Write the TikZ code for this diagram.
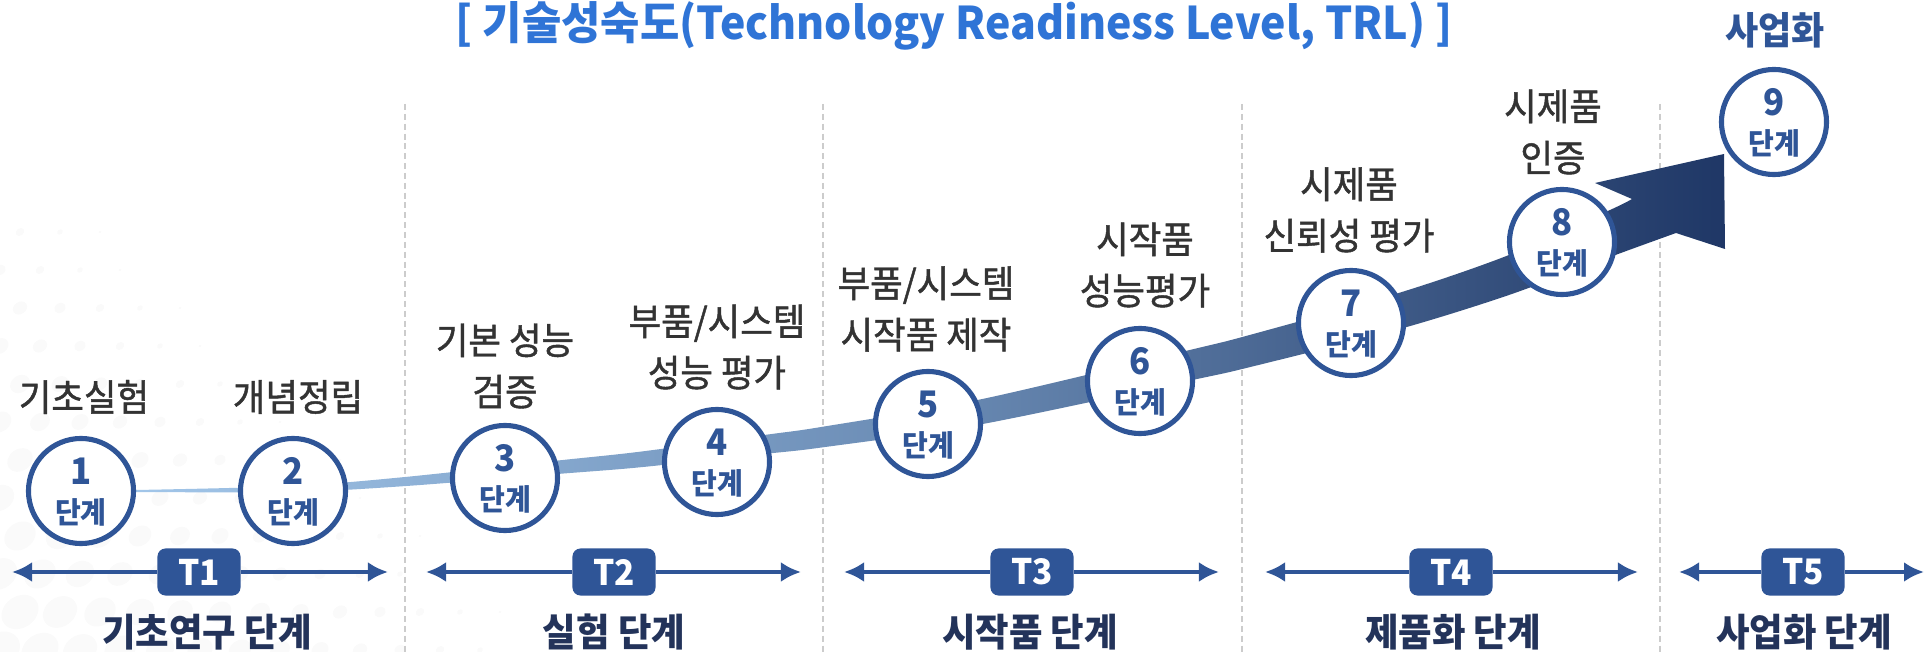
\documentclass[tikz,border=0pt]{standalone}
\usepackage{fontspec}
\setmainfont{Noto Sans CJK KR}[FakeStretch=0.95]
\newfontfamily\labelfont{Noto Sans CJK KR}[FakeStretch=0.95,FakeBold=1.2]
\usetikzlibrary{arrows.meta}

\definecolor{trlblue}{HTML}{2F5597}
\definecolor{titleblue}{HTML}{2F74D6}
\definecolor{labelgray}{HTML}{333333}
\definecolor{phasenavy}{HTML}{23335A}
\definecolor{bandlight}{HTML}{A2C6E9}
\definecolor{bandmid}{HTML}{6A8BB4}
\definecolor{banddark}{HTML}{1F3766}

\begin{document}
\begin{tikzpicture}[x=0.01cm,y=-0.01cm,
    stepcirc/.style={circle,draw=trlblue,line width=1.45pt,fill=white,minimum size=1.05cm,inner sep=0pt},
    stepnum/.style={text=trlblue,font=\bfseries\fontsize{10.4}{10}\selectfont,inner sep=0pt},
    stepword/.style={text=trlblue,font=\bfseries\fontsize{8.4}{8}\selectfont,inner sep=0pt},
    steplabel/.style={text=labelgray,align=center,font=\labelfont\fontsize{10.6}{14.6}\selectfont,inner sep=0pt},
    tbox/.style={fill=trlblue,rounded corners=0.08cm,minimum width=0.83cm,minimum height=0.47cm,
      text=white,font=\bfseries\fontsize{10}{10}\selectfont,inner sep=0pt},
    phasearrow/.style={draw=trlblue,line width=1.35pt,-{Latex[length=0.2cm,width=0.2cm]}},
    phaselabel/.style={text=phasenavy,font=\bfseries\fontsize{10.9}{12}\selectfont,inner sep=0pt},
    divider/.style={draw=gray!40,line width=0.55pt,dash pattern=on 1.7pt off 1.1pt}]
  \useasboundingbox (0,0) rectangle (1926,652);

  % faint dots, lower left
  \foreach \r in {0,...,11}
  \foreach \c in {0,...,12}
  {
    \pgfmathsetmacro\rad{max(0,17*(1-(\r+\c)/14))}
    \fill[gray!4,rotate around={35:({\c*40+mod(\r,2)*20},{650-\r*38})}]
      ({\c*40+mod(\r,2)*20},{650-\r*38}) ellipse[x radius=1.25*\rad,y radius=\rad];
  }

  % dividers
  \foreach \x [count=\k] in {405,823,1242,1660}
  {
    \coordinate (dt\k) at (\x,104);
    \coordinate (db\k) at (\x,652);
    \draw[divider] (dt\k) -- (db\k);
  }

  % rising band
  \shade[left color=bandlight,right color=banddark,middle color=bandmid]
    plot[smooth] coordinates {(136,490) (293,486) (405,477) (560,460.3) (640,451.7) (768,434.5) (823,426.7)
      (980,399.5) (1191,349.7) (1250,334.9) (1399,292.9) (1509,255) (1610,210) (1632,199)}
    -- (1595,183) -- (1724,154) -- (1725,249)
    -- plot[smooth] coordinates {(1676,233) (1610,257) (1509,295) (1399,329.2) (1250,367.1) (1191,380.3)
      (980,424.5) (823,447.3) (768,453.6) (640,467.3) (560,473.8) (405,486.1) (293,492) (136,492)} -- cycle;

  % steps
  \foreach \i/\x/\y in {1/81/491,2/293/491,3/505/478,4/717/462,5/928/424,6/1140/381,7/1351/323,8/1562/242,9/1774/122}
  {
    \node[stepcirc] (s\i) at (\x,\y) {};
    \node[stepnum] (n\i) at ([yshift=0.2cm]s\i.center) {\i};
    \node[stepword] (w\i) at ([yshift=-0.21cm]s\i.center) {단계};
  }

  \node[steplabel] (lab1) at (84,397) {기초실험};
  \node[steplabel] (lab2) at (298,397) {개념정립};
  \node[steplabel] (lab3) at (505,366) {기본 성능\\검증};
  \node[steplabel] (lab4) at (717,347) {부품/시스템\\성능 평가};
  \node[steplabel] (lab5) at (926,309) {부품/시스템\\시작품 제작};
  \node[steplabel] (lab6) at (1145,265) {시작품\\성능평가};
  \node[steplabel] (lab7) at (1349,210) {시제품\\신뢰성 평가};
  \node[steplabel] (lab8) at (1553,132) {시제품\\인증};
  \node[text=trlblue,font=\bfseries\fontsize{10.8}{11}\selectfont,inner sep=0pt] (lab9) at (1775,30) {사업화};

  \node[text=titleblue,font=\bfseries\fontsize{12.8}{14}\selectfont,inner sep=0pt] (title) at (954,26)
    {[ 기술성숙도(Technology Readiness Level, TRL) ]};

  % phases
  \foreach \i/\a/\m/\b in {1/12/199/388,2/426/614/801,3/844/1032/1219,4/1265/1451/1638,5/1679/1803/1924}
  {
    \coordinate (pl\i) at (\a,572);
    \coordinate (pr\i) at (\b,572);
    \node[tbox] (t\i) at (\m,572) {T\i};
    \draw[phasearrow] (t\i) -- (pl\i);
    \draw[phasearrow] (t\i) -- (pr\i);
  }
  \foreach \i/\x/\txt in {1/207/기초연구 단계,2/614/실험 단계,3/1030/시작품 단계,4/1453/제품화 단계,5/1804/사업화 단계}
  \node[phaselabel] (ph\i) at (\x,632) {\txt};
\end{tikzpicture}
\end{document}
